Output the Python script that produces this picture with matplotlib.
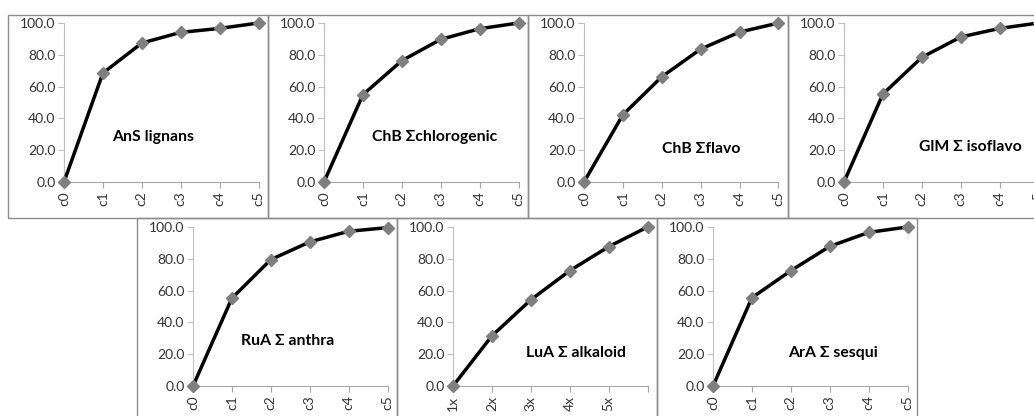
import matplotlib
matplotlib.use("Agg")
import matplotlib.pyplot as plt
from matplotlib.patches import Rectangle

plt.rcParams['font.family'] = ['Lato', 'DejaVu Sans']

cats_c = ["c0", "c1", "c2", "c3", "c4", "c5"]
cats_x = ["1x", "2x", "3x", "4x", "5x", ""]

names = ["AnS lignans", "ChB \u03a3chlorogenic", "ChB \u03a3flavo", "GlM \u03a3 isoflavo",
         "RuA \u03a3 anthra", "LuA \u03a3 alkaloid", "ArA \u03a3 sesqui"]

ans_lignans = [0.0, 68.5, 87.4, 94.1, 96.6, 100.0]
chb_chlorogenic = [0.0, 54.9, 76.3, 89.7, 96.4, 100.0]
chb_flavo = [0.0, 42.3, 66.2, 83.6, 94.3, 100.0]
glm_isoflavo = [0.0, 55.3, 78.4, 91.2, 96.6, 100.0]
rua_anthra = [0.0, 55.2, 79.5, 90.6, 97.3, 99.6]
lua_alkaloid = [0.0, 31.5, 54.2, 72.5, 87.6, 100.0]
ara_sesqui = [0.0, 55.5, 72.5, 87.8, 96.6, 100.0]

series = [ans_lignans, chb_chlorogenic, chb_flavo, glm_isoflavo,
          rua_anthra, lua_alkaloid, ara_sesqui]
labels = [cats_c, cats_c, cats_c, cats_c, cats_c, cats_x, cats_c]
# label anchor (x in category units, y in data units)
label_pos = [(2.3, 28), (2.84, 28), (3.0, 21), (3.25, 22),
             (2.44, 28), (3.15, 21), (3.08, 21)]

W, H = 1034, 416
fig = plt.figure(figsize=(W / 100, H / 100), dpi=100)

# panel layout in pixels: (frame_left, frame_top, frame_bottom, axes_left, axes_top, axes_bottom)
panels = []
for i in range(4):
    panels.append((8 + 260 * i, 15, 218, 64 + 260 * i, 23, 182))
for j in range(3):
    panels.append((137 + 260 * j, 218, 420, 193 + 260 * j, 227, 386))

for k, (fl, ft, fb, al, at, ab) in enumerate(panels):
    fig.patches.append(Rectangle((fl / W, 1 - fb / H), 260 / W, (fb - ft) / H,
                                 transform=fig.transFigure, fill=False,
                                 edgecolor="#8c8c8c", linewidth=1.0))
    ax = fig.add_axes([al / W, 1 - ab / H, 194.5 / W, (ab - at) / H])
    ax.patch.set_alpha(0)
    xs = range(len(series[k]))
    ax.plot(xs, series[k], color="black", linewidth=2.5, marker="D",
            markersize=6.5, markerfacecolor="#7f7f7f", markeredgecolor="#7f7f7f",
            clip_on=False, zorder=3)
    ax.set_xlim(0, 5)
    ax.set_ylim(0, 100)
    ax.set_yticks([0, 20, 40, 60, 80, 100])
    ax.set_yticklabels(["%.1f" % v for v in [0, 20, 40, 60, 80, 100]])
    ax.set_xticks(list(xs))
    ax.set_xticklabels(labels[k], rotation=90)
    for s in ["top", "right"]:
        ax.spines[s].set_visible(False)
    ax.spines["left"].set_color("#c0c0c0")
    ax.spines["bottom"].set_color("#a6a6a6")
    ax.tick_params(axis="y", length=4, color="#c0c0c0", labelsize=10, labelcolor="#333333", pad=2)
    ax.tick_params(axis="x", length=4, color="#a6a6a6", labelsize=10, labelcolor="#333333", pad=3)
    lx, ly = label_pos[k]
    ax.text(lx, ly, names[k], ha="center", va="center", fontsize=11.3,
            fontweight="bold", color="black")

fig.savefig("out.png", dpi=100)
